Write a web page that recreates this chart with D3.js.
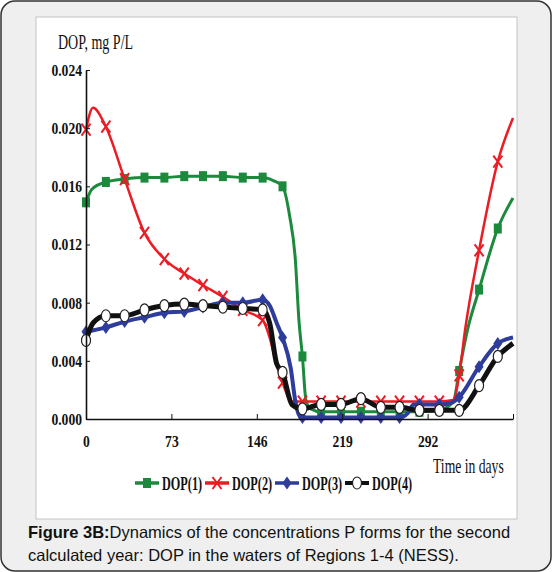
<!DOCTYPE html>
<html>
<head>
<meta charset="utf-8">
<script src="https://cdn.jsdelivr.net/npm/d3@7/dist/d3.min.js"></script>
<style>
  body { margin: 0; background: #fff; }
</style>
</head>
<body>
<svg id="chart" width="552" height="572"></svg>
<script>
// days where the original plot puts a marker
const markerDays = [0, 17, 33, 50, 67, 84, 100, 117, 134, 151, 168, 185, 201, 218, 235, 252, 268, 285, 302, 319, 336, 352];

const dop1Days = [0, 5, 17, 33, 50, 67, 84, 100, 117, 134, 151, 160, 168, 174, 179, 182, 185, 188, 192, 201, 218, 235, 252, 268, 285, 302, 314, 319, 326, 336, 352, 365];
const dop1Vals = [0.0149, 0.0158, 0.0163, 0.0165, 0.0166, 0.0166, 0.0167, 0.0167, 0.0167, 0.0166, 0.0166, 0.0164, 0.0160, 0.0140, 0.0109, 0.0068, 0.0043, 0.0013, 0.0007, 0.0005, 0.0005, 0.0005, 0.0005, 0.0005, 0.0005, 0.0006, 0.0012, 0.0033, 0.0061, 0.0089, 0.0131, 0.0152];

const dop2Days = [0, 6, 17, 33, 50, 67, 84, 100, 117, 134, 151, 157, 162, 168, 176, 185, 201, 218, 235, 252, 268, 285, 302, 314, 319, 324, 336, 352, 365];
const dop2Vals = [0.0199, 0.0214, 0.0201, 0.0165, 0.0128, 0.0110, 0.0100, 0.0092, 0.0084, 0.0075, 0.0068, 0.0056, 0.0040, 0.0025, 0.0012, 0.0012, 0.0012, 0.0012, 0.0012, 0.0012, 0.0012, 0.0012, 0.0012, 0.0013, 0.0030, 0.0061, 0.0116, 0.0177, 0.0207];

const dop3Days = [0, 17, 33, 50, 67, 84, 100, 117, 134, 151, 157, 163, 168, 175, 179, 182, 185, 201, 218, 235, 252, 268, 275, 280, 285, 302, 312, 319, 336, 352, 365];
const dop3Vals = [0.0060, 0.0063, 0.0067, 0.0070, 0.0073, 0.0074, 0.0077, 0.0080, 0.0080, 0.0082, 0.0078, 0.0066, 0.0056, 0.0035, 0.0012, 0.0003, 0.0001, 0.0001, 0.0001, 0.0001, 0.0001, 0.0001, 0.0004, 0.0010, 0.0010, 0.0010, 0.0011, 0.0015, 0.0036, 0.0052, 0.0056];

const dop4Days = [0, 6, 17, 33, 50, 67, 84, 100, 117, 134, 151, 157, 163, 168, 176, 185, 201, 218, 235, 252, 268, 285, 302, 319, 336, 352, 365];
const dop4Vals = [0.0054, 0.0066, 0.0071, 0.0071, 0.0075, 0.0078, 0.0079, 0.0078, 0.0077, 0.0076, 0.0075, 0.0066, 0.0038, 0.0032, 0.0010, 0.0007, 0.0010, 0.0010, 0.0014, 0.0008, 0.0008, 0.0006, 0.0006, 0.0006, 0.0023, 0.0043, 0.0052];

const seriesNames = ['DOP(1)', 'DOP(2)', 'DOP(3)', 'DOP(4)'];
const xTicks = [0, 73, 146, 219, 292, 365];
const yTicks = [0, 0.004, 0.008, 0.012, 0.016, 0.020, 0.024];

const svg = d3.select('#chart');

// squeeze text horizontally, the original figure uses a very narrow font
function squeeze(sel, k) {
    sel.each(function () {
        const w = this.getComputedTextLength();
        d3.select(this).attr('textLength', w * k).attr('lengthAdjust', 'spacingAndGlyphs');
    });
}

// frame + white panel
svg.append('rect')
    .attr('x', 1).attr('y', 1).attr('width', 550).attr('height', 570)
    .attr('rx', 14)
    .attr('fill', '#efefef')
    .attr('stroke', '#333').attr('stroke-width', 1.5);

svg.append('rect')
    .attr('x', 36).attr('y', 17).attr('width', 481).attr('height', 502)
    .attr('fill', '#fff')
    .attr('stroke', '#c4c4c4').attr('stroke-width', 1);

const x = d3.scaleLinear().domain([0, 365]).range([86, 513]);
const y = d3.scaleLinear().domain([0, 0.024]).range([419, 70]);

const series = [
    { name: seriesNames[0], days: dop1Days, vals: dop1Vals, color: '#1b8a3c', width: 3, marker: 'square' },
    { name: seriesNames[1], days: dop2Days, vals: dop2Vals, color: '#ec1c24', width: 2.5, marker: 'cross' },
    { name: seriesNames[2], days: dop3Days, vals: dop3Vals, color: '#2e3d9c', width: 4, marker: 'diamond' },
    { name: seriesNames[3], days: dop4Days, vals: dop4Vals, color: '#111', width: 5, marker: 'circle' }
];

const line = d3.line()
    .x(d => x(d.day))
    .y(d => y(d.val))
    .curve(d3.curveMonotoneX);

function drawMarker(g, type, cx, cy, color) {
    if (type === 'square') {
        g.append('rect')
            .attr('x', cx - 4).attr('y', cy - 5)
            .attr('width', 8).attr('height', 10)
            .attr('fill', color);
    } else if (type === 'cross') {
        g.append('path')
            .attr('d', `M${cx - 4.5},${cy - 6}L${cx + 4.5},${cy + 6}M${cx - 4.5},${cy + 6}L${cx + 4.5},${cy - 6}`)
            .attr('stroke', color).attr('stroke-width', 2).attr('fill', 'none');
    } else if (type === 'diamond') {
        g.append('path')
            .attr('d', `M${cx},${cy - 6.5}L${cx + 4.5},${cy}L${cx},${cy + 6.5}L${cx - 4.5},${cy}Z`)
            .attr('fill', color);
    } else {
        g.append('ellipse')
            .attr('cx', cx).attr('cy', cy)
            .attr('rx', 4.5).attr('ry', 6)
            .attr('fill', '#fff')
            .attr('stroke', '#222').attr('stroke-width', 1.2);
    }
}

const plot = svg.append('g');

series.forEach(s => {
    const pts = s.days.map((d, i) => ({ day: d, val: s.vals[i] }));
    const g = plot.append('g');
    g.append('path')
        .datum(pts)
        .attr('d', line)
        .attr('fill', 'none')
        .attr('stroke', s.color)
        .attr('stroke-width', s.width)
        .attr('stroke-linejoin', 'round');
    pts.filter(p => markerDays.includes(p.day))
        .forEach(p => drawMarker(g, s.marker, x(p.day), y(p.val), s.color));
});

// axes
const yAxis = svg.append('g')
    .attr('transform', 'translate(86,0)')
    .call(d3.axisLeft(y)
        .tickValues(yTicks)
        .tickFormat(d3.format('.3f'))
        .tickSizeInner(-4)
        .tickSizeOuter(0)
        .tickPadding(4));

const xAxis = svg.append('g')
    .attr('transform', 'translate(0,419)')
    .call(d3.axisBottom(x)
        .tickValues(xTicks)
        .tickFormat(d => d === 365 ? '' : d)
        .tickSizeInner(-5)
        .tickSizeOuter(0)
        .tickPadding(16));

[yAxis, xAxis].forEach(ax => {
    ax.select('.domain').attr('stroke', '#111').attr('stroke-width', 1.6);
    ax.selectAll('.tick line').attr('stroke', '#111').attr('stroke-width', 1);
    ax.selectAll('.tick text')
        .attr('fill', '#111')
        .style('font-family', '"Liberation Serif", serif')
        .style('font-weight', 'bold')
        .style('font-size', '17px');
    squeeze(ax.selectAll('.tick text'), 0.8);
});

// titles
const yTitle = svg.append('text')
    .attr('x', 58).attr('y', 49)
    .style('font-family', '"Liberation Serif", serif')
    .style('font-size', '20px')
    .attr('fill', '#111')
    .text('DOP, mg P/L');
squeeze(yTitle, 0.7);

const xTitle = svg.append('text')
    .attr('x', 433).attr('y', 473)
    .style('font-family', '"Liberation Serif", serif')
    .style('font-size', '22px')
    .attr('fill', '#111')
    .text('Time in days');
squeeze(xTitle, 0.62);

// legend
const legend = svg.append('g').attr('transform', 'translate(135,483)');
series.forEach((s, i) => {
    const g = legend.append('g').attr('transform', `translate(${i * 70},0)`);
    g.append('line')
        .attr('x1', 0).attr('x2', 24)
        .attr('stroke', s.color)
        .attr('stroke-width', s.marker === 'circle' ? 4 : 3.5);
    drawMarker(g, s.marker, 12, 0, s.color);
    const t = g.append('text')
        .attr('x', 27).attr('y', 7)
        .style('font-family', '"Liberation Serif", serif')
        .style('font-weight', 'bold')
        .style('font-size', '18px')
        .attr('fill', '#111')
        .text(s.name);
    squeeze(t, 0.68);
});

// caption
const cap1 = svg.append('text')
    .attr('x', 28).attr('y', 538)
    .style('font-family', '"Liberation Sans", Arial, sans-serif')
    .style('font-size', '16.5px')
    .attr('fill', '#111');
cap1.append('tspan').style('font-weight', 'bold').text('Figure 3B:');
cap1.append('tspan').text('Dynamics of the concentrations P forms for the second');

svg.append('text')
    .attr('x', 28).attr('y', 561)
    .style('font-family', '"Liberation Sans", Arial, sans-serif')
    .style('font-size', '16.5px')
    .attr('fill', '#111')
    .text('calculated year: DOP in the waters of Regions 1-4 (NESS).');
</script>
</body>
</html>
